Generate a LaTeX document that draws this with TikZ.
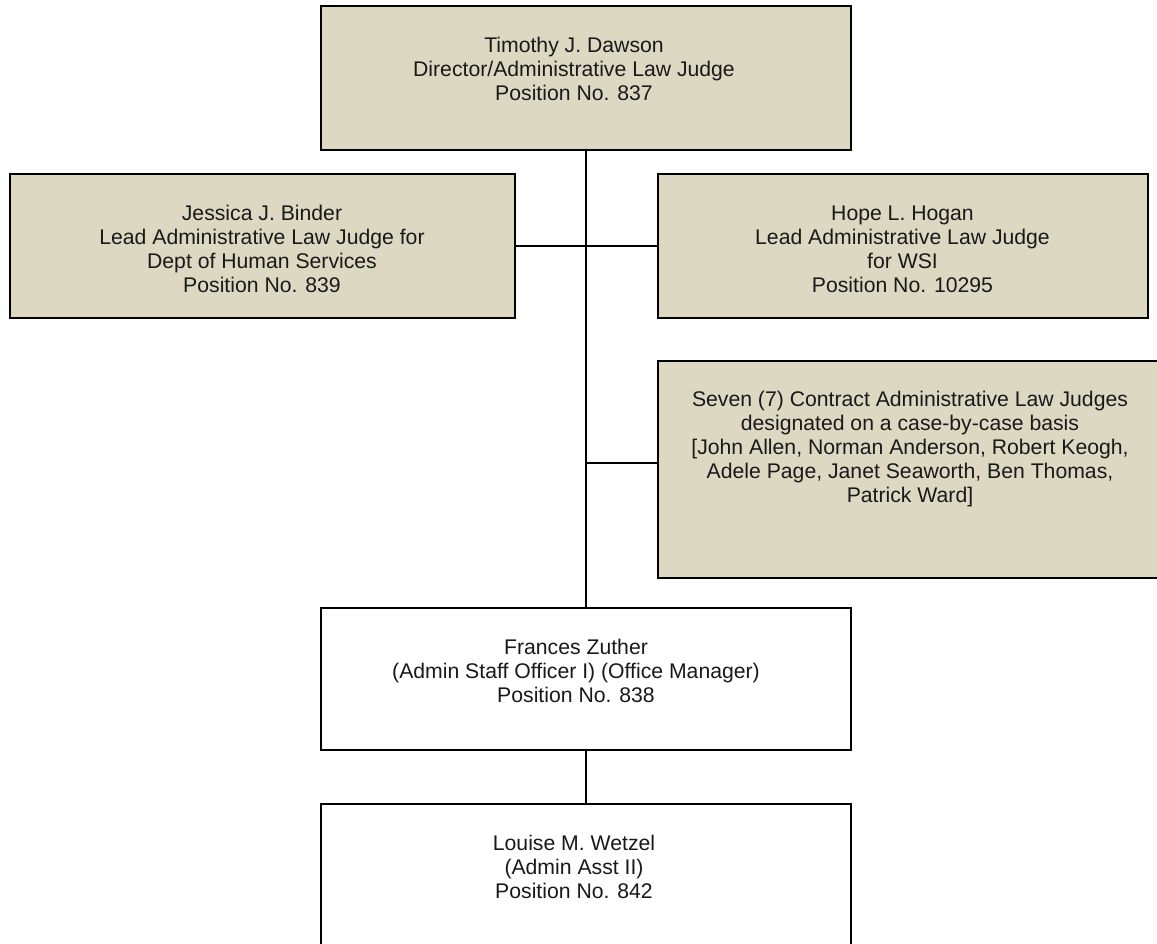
\documentclass[tikz,border=0pt]{standalone}
\usepackage{fontspec}
\setmainfont{Liberation Sans}
\definecolor{boxtan}{HTML}{DDD8C2}
\tikzset{
  box/.style={draw=black, line width=2pt, anchor=north west, inner sep=0pt, outer sep=0pt},
  tanbox/.style={box, fill=boxtan},
  whitebox/.style={box, fill=white},
  txt/.style={anchor=north, align=center, inner sep=0pt, font=\fontsize{21.2}{23.8}\selectfont, text=black!90},
  conn/.style={draw=black, line width=1.5pt},
}
\begin{document}
\begin{tikzpicture}[x=1pt,y=-1pt]
\clip (0,0) rectangle (1157,944);
\fill[white] (0,0) rectangle (1157,944);
% boxes
\node[tanbox, minimum width=530pt, minimum height=144pt] (top) at (321,6) {};
\node[tanbox, minimum width=505pt, minimum height=144pt] (jess) at (9.5,174) {};
\node[tanbox, minimum width=490pt, minimum height=144pt] (hope) at (657.5,174) {};
\node[tanbox, minimum width=505pt, minimum height=217pt] (seven) at (657.5,361) {};
\node[whitebox, minimum width=530pt, minimum height=142pt] (fran) at (321,608) {};
\node[whitebox, minimum width=530pt, minimum height=145pt] (lou) at (321,804) {};
% texts
\node[txt] (toptxt) at ([xshift=-12pt,yshift=-30.7pt]top.north) {\rule{0pt}{16pt}Timothy J. Dawson\\Director/Administrative Law Judge\\Position No. 837};
\node[txt] (jesstxt) at ([yshift=-30.7pt]jess.north) {\rule{0pt}{16pt}Jessica J. Binder\\Lead Administrative Law Judge for\\Dept of Human Services\\Position No. 839};
\node[txt] (hopetxt) at ([yshift=-30.7pt]hope.north) {\rule{0pt}{16pt}Hope L. Hogan\\Lead Administrative Law Judge\\for WSI\\Position No. 10295};
\node[txt] (seventxt) at ([yshift=-29.7pt]seven.north) {\rule{0pt}{16pt}Seven (7) Contract Administrative Law Judges\\designated on a case-by-case basis\\{}[John Allen, Norman Anderson, Robert Keogh,\\Adele Page, Janet Seaworth, Ben Thomas,\\Patrick Ward]};
\node[txt] (frantxt) at ([xshift=-10pt,yshift=-30.7pt]fran.north) {\rule{0pt}{16pt}Frances Zuther\\(Admin Staff Officer I) (Office Manager)\\Position No. 838};
\node[txt] (loutxt) at ([xshift=-12pt,yshift=-30.7pt]lou.north) {\rule{0pt}{16pt}Louise M. Wetzel\\(Admin Asst II)\\Position No. 842};
% connectors
\draw[conn] (top.south) -- (fran.north);
\draw[conn] (jess.east) -- (hope.west);
\coordinate (sj) at (586,463);
\draw[conn] (sj) -- (seven.west |- sj);
\draw[conn] (fran.south) -- (lou.north);
\end{tikzpicture}
\end{document}
